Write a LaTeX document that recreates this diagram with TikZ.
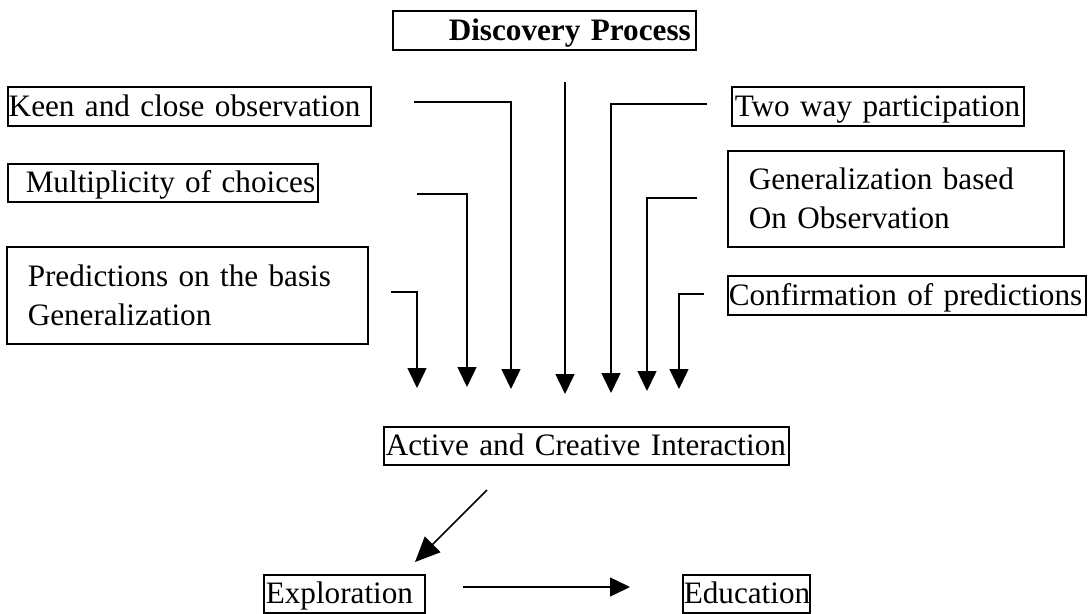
\documentclass[tikz,border=0pt]{standalone}
\usepackage{fontspec}
\setmainfont{Liberation Serif}
\usetikzlibrary{arrows.meta}

\tikzset{
  box/.style={draw, line width=1.5pt, inner sep=0pt, anchor=north west, align=left},
  onebox/.style={box, text height=30pt, text depth=9pt},
  flow/.style={line width=1.5pt, -{Triangle[length=20pt,width=19pt]}},
  bigflow/.style={line width=1.5pt, -{Triangle[length=25pt,width=22pt]}}
}

\begin{document}
\begin{tikzpicture}[x=1pt, y=-1pt, every node/.style={font=\fontsize{31.2}{39}\selectfont}]
			\useasboundingbox (0,0) rectangle (1089,613);
			\node [onebox, text width=303pt, font=\fontsize{31.2}{39}\selectfont\bfseries] (disc) at (392,10) {\mbox{\hspace*{56pt}Discovery Process}};
			\node [onebox, text width=363pt] (keen) at (7,86) {\mbox{\hspace*{1pt}Keen and close observation}};
			\node [onebox, text width=310pt, text height=29pt] (mult) at (7,163) {\mbox{\hspace*{18pt}Multiplicity of choices}};
			\node [box, text width=361pt, minimum height=97pt] (pred) at (6,246) {\hspace*{21pt}Predictions on the basis\\\hspace*{21pt}Generalization};
			\node [onebox, text width=292pt] (twoway) at (731,86) {\mbox{\hspace*{3pt}Two way participation}};
			\node [box, text width=336pt, minimum height=96pt] (gener) at (727,150) {\hspace*{21pt}Generalization based\\\hspace*{21pt}On Observation};
			\node [onebox, text width=358pt] (confirm) at (727,275) {\mbox{\hspace*{1pt}Confirmation of predictions}};
			\node [onebox, text width=405pt, text height=29pt] (active) at (383,426) {\mbox{\hspace*{2pt}Active and Creative Interaction}};
			\node [onebox, text width=161pt, text height=29pt] (explor) at (263,574) {\mbox{\hspace*{2pt}Exploration}};
			\node [onebox, text width=127pt, text height=29pt] (educ) at (682,574) {\mbox{\hspace*{1pt}Education}};
			\coordinate (keenS) at (414,102);
			\coordinate (keenE) at (511,389);
			\coordinate (multS) at (417,194);
			\coordinate (multE) at (467,387);
			\coordinate (predS) at (391,292);
			\coordinate (predE) at (417,388);
			\coordinate (discS) at (565,82);
			\coordinate (discE) at (565,394);
			\coordinate (twowayS) at (707,104);
			\coordinate (twowayE) at (611,393);
			\coordinate (generS) at (697,198);
			\coordinate (generE) at (647,391);
			\coordinate (confirmS) at (704,294);
			\coordinate (confirmE) at (679,389);
			\coordinate (activeS) at (487,490);
			\coordinate (activeE) at (415,562);
			\coordinate (explorS) at (463,587);
			\coordinate (explorE) at (630,587);
			\draw [flow] (keenS) -| (keenE);
			\draw [flow] (multS) -| (multE);
			\draw [flow] (predS) -| (predE);
			\draw [flow] (discS) -- (discE);
			\draw [flow] (twowayS) -| (twowayE);
			\draw [flow] (generS) -| (generE);
			\draw [flow] (confirmS) -| (confirmE);
			\draw [bigflow] (activeS) -- (activeE);
			\draw [flow] (explorS) -- (explorE);
\end{tikzpicture}
\end{document}
